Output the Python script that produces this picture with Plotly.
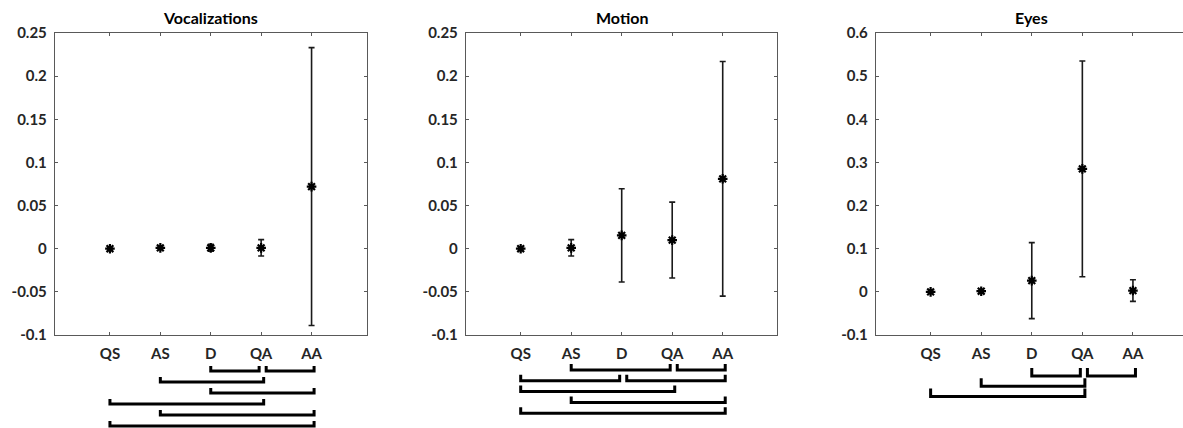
import plotly.graph_objects as go

W, H = 1183, 428

categories = ["QS", "AS", "D", "QA", "AA"]

titles = ["Vocalizations", "Motion", "Eyes"]

voc_mean = [0.0, 0.001, 0.001, 0.001, 0.072]
voc_err = [0.0, 0.0008, 0.004, 0.0095, 0.161]

mot_mean = [0.0, 0.001, 0.0155, 0.010, 0.081]
mot_err = [0.0, 0.0095, 0.054, 0.044, 0.136]

eye_mean = [0.0, 0.0015, 0.026, 0.285, 0.003]
eye_err = [0.0, 0.001, 0.088, 0.25, 0.025]

# significance comparisons (row by row)
voc_pairs = [[("D", "QA"), ("QA", "AA")], [("AS", "QA")], [("D", "AA")],
             [("QS", "QA")], [("AS", "AA")], [("QS", "AA")]]
mot_pairs = [[("AS", "QA"), ("QA", "AA")], [("QS", "D"), ("D", "AA")],
             [("QS", "QA")], [("AS", "AA")], [("QS", "AA")]]
eye_pairs = [[("D", "QA"), ("QA", "AA")], [("AS", "QA")], [("QS", "QA")]]

y_ticks_small = [-0.1, -0.05, 0, 0.05, 0.1, 0.15, 0.2, 0.25]
y_text_small = ["-0.1", "-0.05", "0", "0.05", "0.1", "0.15", "0.2", "0.25"]
y_ticks_eyes = [-0.1, 0, 0.1, 0.2, 0.3, 0.4, 0.5, 0.6]
y_text_eyes = ["-0.1", "0", "0.1", "0.2", "0.3", "0.4", "0.5", "0.6"]

panels = [
    dict(mean=voc_mean, err=voc_err, pairs=voc_pairs, yt=y_ticks_small, ytt=y_text_small,
         yr=[-0.1, 0.25], xdom=[55, 367], xr=[-0.09, 6.1], rows=(371, 11, 5), mirror="ticks"),
    dict(mean=mot_mean, err=mot_err, pairs=mot_pairs, yt=y_ticks_small, ytt=y_text_small,
         yr=[-0.1, 0.25], xdom=[466, 777], xr=[-0.083, 6.075], rows=(370, 10.8, 6), mirror="ticks"),
    dict(mean=eye_mean, err=eye_err, pairs=eye_pairs, yt=y_ticks_eyes, ytt=y_text_eyes,
         yr=[-0.1, 0.6], xdom=[876, 1183], xr=[-0.08, 5.99], rows=(376, 10.3, 8), mirror=False),
]

FONT = "Lato"
AXC = "#595959"
TXT = "#262626"

fig = go.Figure()
shapes = []
annotations = []
xpos = list(range(1, len(categories) + 1))
cidx = {c: i + 1 for i, c in enumerate(categories)}

ytop, ybot = 33, 335

for k, p in enumerate(panels):
    sfx = "" if k == 0 else str(k + 1)
    fig.add_trace(go.Scatter(
        x=xpos, y=p["mean"], mode="markers",
        marker=dict(symbol="asterisk-open", size=8, color="black",
                    line=dict(width=2.2, color="black")),
        error_y=dict(type="data", array=p["err"], visible=True, color="#1a1a1a",
                     thickness=1.6, width=3),
        xaxis="x" + sfx, yaxis="y" + sfx, showlegend=False, cliponaxis=False,
        hoverinfo="skip",
    ))
    xd = [p["xdom"][0] / W, min(1.0, p["xdom"][1] / W)]
    fig.layout["xaxis" + sfx] = dict(
        domain=xd, range=p["xr"], tickvals=xpos, ticktext=categories,
        showline=True, linecolor=AXC, linewidth=1.2, mirror="ticks",
        ticks="inside", ticklen=3, tickcolor=AXC, showgrid=False, zeroline=False,
        anchor="y" + sfx, tickfont=dict(family=FONT, size=15, color=TXT, weight="bold"),
        ticklabelstandoff=5, fixedrange=True, automargin=False,
    )
    fig.layout["yaxis" + sfx] = dict(
        domain=[1 - ybot / H, 1 - ytop / H], range=p["yr"], tickvals=p["yt"], ticktext=p["ytt"],
        showline=True, linecolor=AXC, linewidth=1.2, mirror=p["mirror"],
        ticks="inside", ticklen=3, tickcolor=AXC, showgrid=False, zeroline=False,
        anchor="x" + sfx, tickfont=dict(family=FONT, size=15, color=TXT, weight="bold"),
        ticklabelstandoff=4, fixedrange=True, automargin=False,
    )
    x_left = p["xdom"][0]
    x_right = p["xdom"][1]
    x_center = x_left + (cidx["D"] - p["xr"][0]) / (p["xr"][1] - p["xr"][0]) * (min(W, x_right) - x_left)
    annotations.append(dict(
        x=x_center / W, y=1 - 17 / H, xref="paper", yref="paper", text="<b>" + titles[k] + "</b>",
        showarrow=False, font=dict(family=FONT, size=16, color="black"),
        xanchor="center", yanchor="middle",
    ))
    y0, dy, leg = p["rows"]
    for r, row in enumerate(p["pairs"]):
        yb = y0 + r * dy
        for j, (a, b) in enumerate(row):
            xa = cidx[a]
            xb = cidx[b] + 0.05
            if j + 1 < len(row):
                xb = cidx[b] - 0.04
            if j > 0:
                xa = cidx[a] + 0.1
            path = "M {},{} L {},{} L {},{} L {},{}".format(
                xa, 1 - (yb - leg) / H, xa, 1 - yb / H, xb, 1 - yb / H, xb, 1 - (yb - leg) / H)
            shapes.append(dict(type="path", path=path, xref="x" + sfx, yref="paper",
                               line=dict(color="black", width=3)))

fig.update_layout(
    width=W, height=H, margin=dict(l=0, r=0, t=0, b=0, autoexpand=False),
    paper_bgcolor="white", plot_bgcolor="white",
    shapes=shapes, annotations=annotations, showlegend=False,
)

fig.write_html("out.html", config={"displayModeBar": False, "staticPlot": True},
               post_script="document.body.style.margin='0';document.body.style.overflow='hidden';")
